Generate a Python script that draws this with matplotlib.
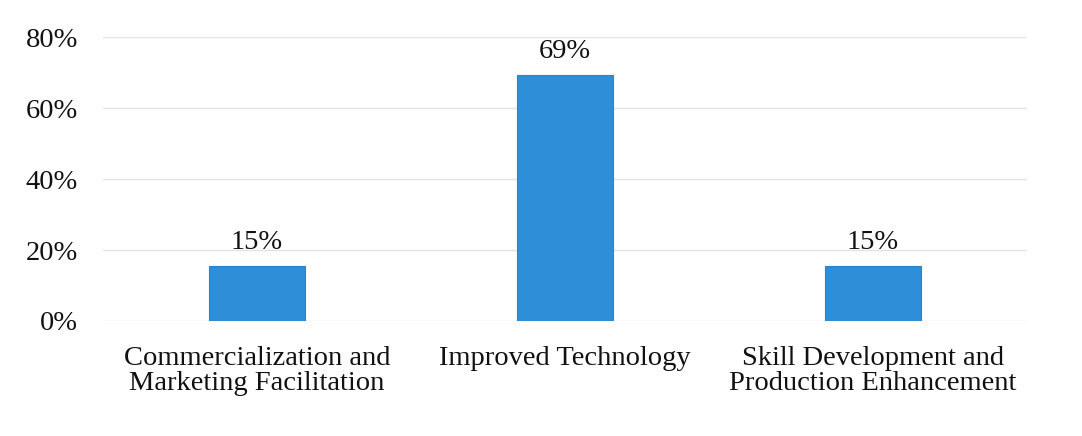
import matplotlib
matplotlib.use("Agg")
import matplotlib.pyplot as plt
from matplotlib.ticker import FuncFormatter

categories = ["Commercialization and\nMarketing Facilitation",
              "Improved Technology",
              "Skill Development and\nProduction Enhancement"]
values = [15.4, 69.2, 15.4]
value_labels = ["15%", "69%", "15%"]
yticks = [0, 20, 40, 60, 80]

plt.rcParams['font.family'] = ['Liberation Serif', 'DejaVu Serif']

fig = plt.figure(figsize=(10.82, 4.36), dpi=100)
ax = fig.add_axes([103/1082, 1 - 321/436, (1027-103)/1082, (321-37)/436])

x = list(range(len(categories)))
bars = ax.bar(x, values, width=0.31, color="#2F8ED8", edgecolor="#2A84CC", linewidth=0.8, zorder=3)
for xi, v, lab in zip(x, values, value_labels):
    ax.text(xi, v + 5.0, lab, ha="center", va="baseline", fontsize=20.5, color="#111111")

ax.set_xlim(-0.5, 2.5)
ax.set_ylim(0, 80)
ax.set_yticks(yticks)
ax.yaxis.set_major_formatter(FuncFormatter(lambda v, p: f"{v:.0f}%"))
ax.set_xticks(x)
ax.set_xticklabels(categories, fontsize=20.5, color="#111111", linespacing=1.0)
ax.tick_params(axis="y", labelsize=20.5, labelcolor="#111111", length=0, pad=18)
ax.tick_params(axis="x", length=0, pad=18)
ax.grid(axis="y", color="#e3e3e3", linewidth=1.0, zorder=0)
for s in ax.spines.values():
    s.set_visible(False)

fig.savefig("out.png", dpi=100)
